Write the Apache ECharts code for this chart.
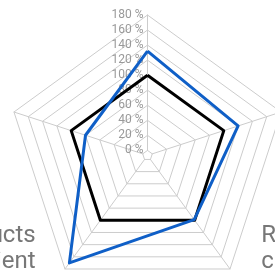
<!DOCTYPE html>
<html>
<head>
<meta charset="utf-8">
<script src="https://cdn.jsdelivr.net/npm/echarts@6/dist/echarts.min.js"></script>
<style>
  html, body { margin: 0; padding: 0; background: #fff; }
  #chart { width: 275px; height: 270px; }
</style>
</head>
<body>
<div id="chart"></div>
<script>
// radar indicators, counterclockwise from the top
var indicatorNames = ['Quality', 'Delivery', 'Products\nClient', 'Research\ncapacity', 'Service'];
var tickMax = 180;
var baseline = [100, 100, 100, 100, 100];
var actual = [132, 80, 170, 99, 120];

var chart = echarts.init(document.getElementById('chart'));

var indicators = indicatorNames.map(function (name, i) {
  var ind = { name: name, min: 0, max: tickMax };
  if (i === 0) {
    ind.axisLabel = { show: true };
  }
  // the two bottom names sit beside the chart, not below it
  if (i === 2) {
    ind.nameGap = -25;
    ind.nameTextStyle = { padding: [0, 44, 0, 0] };
  }
  if (i === 3) {
    ind.nameGap = -25;
    ind.nameTextStyle = { padding: [0, 0, 0, 46] };
  }
  return ind;
});

var option = {
  animation: false,
  radar: {
    center: [147.5, 155.4],
    radius: [5, 140.4],
    startAngle: 90,
    splitNumber: 9,
    shape: 'polygon',
    indicator: indicators,
    axisName: {
      color: '#777',
      fontSize: 24,
      lineHeight: 26,
      fontFamily: 'Roboto'
    },
    nameGap: 15,
    axisLine: { lineStyle: { color: '#ccc', width: 1 } },
    splitLine: { lineStyle: { color: '#ccc', width: 1 } },
    splitArea: { show: false },
    axisTick: { show: false },
    axisLabel: {
      show: false,
      color: '#999',
      fontSize: 12,
      fontFamily: 'Roboto',
      margin: 4,
      formatter: '{value} %'
    }
  },
  series: [{
    type: 'radar',
    symbol: 'none',
    data: [
      { value: baseline, name: 'Target', lineStyle: { color: '#000', width: 3 } },
      { value: actual, name: 'Actual', lineStyle: { color: '#0f5fc7', width: 3 } }
    ]
  }]
};

chart.setOption(option);
</script>
</body>
</html>
